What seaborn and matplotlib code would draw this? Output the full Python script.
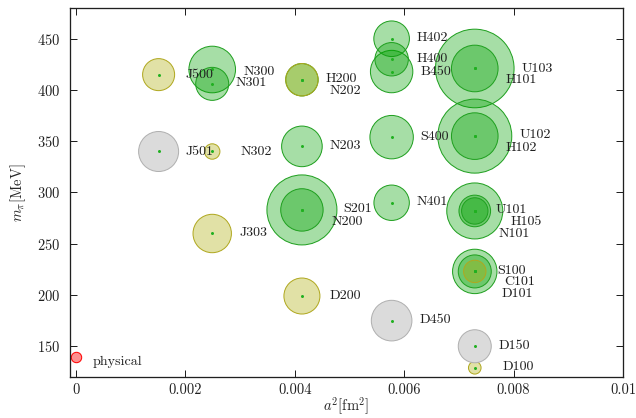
import numpy as np
import pandas as pd
import matplotlib
matplotlib.use("Agg")
import matplotlib.pyplot as plt
import seaborn as sns

# ensembles: name, a^2 [fm^2], m_pi [MeV], bubble radius [pt], status
names = ["U103", "H101", "U102", "H102", "S201", "N200", "U101", "N300",
         "S100", "N203", "S400", "B450", "N401", "H402", "H400", "H105",
         "N301", "H200", "C101", "N101",
         "N202", "J303", "D200", "J500", "D101", "N302", "D100",
         "J501", "D450", "D150",
         "physical"]
a2 = [0.00729, 0.00729, 0.00729, 0.00729, 0.00413, 0.00413, 0.00729, 0.00249,
      0.00729, 0.00413, 0.00577, 0.00577, 0.00577, 0.00577, 0.00577, 0.00729,
      0.00249, 0.00413, 0.00729, 0.00729,
      0.00413, 0.00249, 0.00413, 0.00151, 0.00729, 0.00249, 0.00729,
      0.00151, 0.00577, 0.00729,
      0.0]
mpi = [421, 421, 355, 355, 283, 283, 282, 420,
       223, 345, 354, 418, 290, 450, 430, 282,
       406, 410, 223, 282,
       410, 260, 199, 415, 223, 340, 129,
       340, 175, 150,
       140]
radius = [39.3, 23.3, 37.0, 23.3, 35.0, 21.2, 28.0, 23.3,
          22.2, 20.3, 21.7, 21.2, 17.7, 17.8, 16.7, 15.8,
          16.5, 16.2, 16.5, 13.2,
          16.2, 19.2, 18.0, 16.0, 11.2, 7.7, 6.3,
          20.0, 20.3, 16.5,
          5.2]
status = ["green"] * 20 + ["olive"] * 7 + ["grey"] * 3 + ["red"]

# label offsets from bubble centre (points)
label_offset = {
    "J500": (27, 0), "N300": (31, -2), "N301": (23, 1), "J501": (27, 0),
    "N302": (28, 0), "H200": (24, 1), "N202": (28, -10.7), "N203": (28, 0),
    "H402": (25, 0.7), "H400": (25, 0.5), "B450": (29, 0), "U103": (47, 0),
    "H101": (31, -11.3), "S400": (29, 0.6), "U102": (45, 1.3),
    "H102": (31, -11.4), "N401": (25, 1.3), "S201": (41, 1),
    "N200": (29.4, -12), "U101": (20.7, 1.3), "H105": (35.7, -11),
    "N101": (24, -23), "S100": (22.6, 0.5), "C101": (29.3, -11),
    "D101": (27, -23), "D200": (28, 0), "D450": (27.7, 0.7),
    "D150": (23.4, 0.3), "D100": (27.4, 1.3), "J303": (27.7, 0.4),
    "physical": (16.3, -5),
}

xticks = [0, 0.002, 0.004, 0.006, 0.008, 0.01]
xtick_labels = ["0", "0.002", "0.004", "0.006", "0.008", "0.01"]
yticks = [150, 200, 250, 300, 350, 400, 450]

styles = {
    "green": dict(fc=(0.0, 0.63, 0.0, 0.35), ec="#20a020"),
    "olive": dict(fc=(0.67, 0.67, 0.0, 0.35), ec="#b0a820"),
    "grey": dict(fc=(0.86, 0.86, 0.86, 1.0), ec="#b0b0b0"),
    "red": dict(fc=(1.0, 0.56, 0.56, 1.0), ec="#ff0000"),
}

df = pd.DataFrame({"name": names, "a2": a2, "mpi": mpi,
                   "radius": radius, "status": status})

sns.set_style("ticks")
plt.rcParams["font.family"] = ["cmr10"]
plt.rcParams["mathtext.fontset"] = "cm"
plt.rcParams["axes.formatter.use_mathtext"] = True

fig = plt.figure(figsize=(636 / 72, 418 / 72), dpi=72)
ax = fig.add_axes([70 / 636, 1 - 377 / 418, 553 / 636, 369 / 418])

for st in ["green", "olive", "grey", "red"]:
    sub = df[df["status"] == st].sort_values("radius", ascending=False)
    sns.scatterplot(data=sub, x="a2", y="mpi", ax=ax,
                    s=(2 * sub["radius"].to_numpy()) ** 2,
                    color=styles[st]["fc"], edgecolor=styles[st]["ec"],
                    linewidth=1.0, zorder=2, legend=False, clip_on=False)

# centre dots
dots = df[df["status"] != "red"]
sns.scatterplot(data=dots, x="a2", y="mpi", ax=ax, s=9, color="#20b020",
                linewidth=0, zorder=3, legend=False)

for _, row in df.iterrows():
    dx, dy = label_offset[row["name"]]
    ax.annotate(row["name"], (row["a2"], row["mpi"]), xytext=(dx, dy),
                textcoords="offset points", ha="left", va="center",
                fontsize=14, color="#202020", zorder=4)

ax.set_xlim(-0.00011, 0.01)
ax.set_ylim(120, 480)
ax.set_xticks(xticks)
ax.set_xticklabels(xtick_labels)
ax.set_yticks(yticks)
ax.tick_params(direction="in", length=7, width=1, top=True, right=True,
               labelsize=14.5, colors="#202020")
ax.tick_params(axis="y", pad=10)
ax.tick_params(axis="x", pad=6)
for sp in ax.spines.values():
    sp.set_linewidth(1.3)
    sp.set_color("#202020")

ax.set_xlabel(r"$a^2[\mathrm{fm}^2]$", fontsize=14.5, labelpad=-1)
ax.set_ylabel(r"$m_\pi[\mathrm{MeV}]$", fontsize=14.5, labelpad=9)

fig.savefig("out.png", dpi=72)
